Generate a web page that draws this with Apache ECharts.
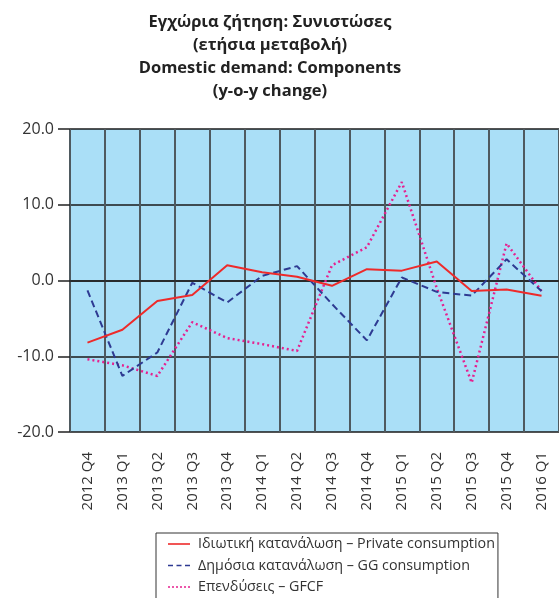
<!DOCTYPE html>
<html>
<head>
<meta charset="utf-8">
<script src="https://cdn.jsdelivr.net/npm/echarts@6/dist/echarts.min.js"></script>
<style>
  html, body { margin: 0; padding: 0; background: #fff; }
  #main { width: 559px; height: 598px; }
</style>
</head>
<body>
<div id="main"></div>
<script>
var quarters = ['2012 Q4', '2013 Q1', '2013 Q2', '2013 Q3', '2013 Q4', '2014 Q1', '2014 Q2',
  '2014 Q3', '2014 Q4', '2015 Q1', '2015 Q2', '2015 Q3', '2015 Q4', '2016 Q1'];
var privateCons = [-8.2, -6.5, -2.7, -1.9, 2.0, 1.1, 0.5, -0.7, 1.5, 1.3, 2.5, -1.4, -1.2, -2.0];
var ggCons = [-1.3, -12.6, -9.5, -0.3, -2.9, 0.6, 1.9, -3.1, -7.9, 0.4, -1.5, -2.0, 2.8, -1.4];
var gfcf = [-10.4, -11.2, -12.6, -5.5, -7.6, -8.4, -9.3, 2.0, 4.4, 13.0, -1.0, -13.5, 4.9, -1.4];

var seriesNames = [
  'Ιδιωτική κατανάλωση – Private consumption',
  'Δημόσια κατανάλωση – GG consumption',
  'Επενδύσεις – GFCF'
];

// legend icons: solid, dashed, dotted strokes
var iconSolid = 'path://M0,0H22V1.6H0Z';
var iconDashed = 'path://M0,0H5V1.6H0Z M8.5,0H13.5V1.6H8.5Z M17,0H22V1.6H17Z';
var iconDotted = 'path://M0,0H2V1.6H0Z M4,0H6V1.6H4Z M8,0H10V1.6H8Z M12,0H14V1.6H12Z M16,0H18V1.6H16Z M20,0H22V1.6H20Z';

var chart = echarts.init(document.getElementById('main'));
var font = '"Open Sans", sans-serif';

var option = {
  backgroundColor: '#fff',
  animation: false,
  title: {
    text: 'Εγχώρια ζήτηση: Συνιστώσες\n(ετήσια μεταβολή)\nDomestic demand: Components\n(y-o-y change)',
    left: 265,
    textAlign: 'center',
    top: 6,
    textStyle: {
      fontFamily: font,
      fontWeight: 'bold',
      fontSize: 16.5,
      lineHeight: 23,
      color: '#222'
    }
  },
  legend: {
    orient: 'vertical',
    left: 156,
    top: 533,
    height: 120,
    padding: [4, 3, 6, 12],
    itemGap: 7.5,
    itemWidth: 22,
    itemHeight: 14,
    borderColor: '#333',
    borderWidth: 1,
    borderRadius: 0,
    textStyle: { fontFamily: font, fontSize: 14.3, color: '#333', padding: [0, 0, 0, 3] },
    data: [
      { name: seriesNames[0], icon: iconSolid },
      { name: seriesNames[1], icon: iconDashed },
      { name: seriesNames[2], icon: iconDotted }
    ]
  },
  grid: {
    left: 70,
    top: 129,
    width: 490,
    height: 303,
    backgroundColor: '#aadff7',
    show: true,
    borderWidth: 0
  },
  xAxis: {
    type: 'category',
    data: quarters,
    boundaryGap: true,
    axisLine: { show: true, lineStyle: { color: '#222', width: 1.5 } },
    axisTick: { show: false },
    axisLabel: {
      rotate: 90,
      interval: 0,
      margin: 20,
      fontFamily: font,
      fontSize: 15,
      color: '#333'
    },
    splitLine: {
      show: true,
      interval: 0,
      lineStyle: { color: '#4f5a60', width: 2 }
    }
  },
  yAxis: {
    type: 'value',
    min: -20,
    max: 20,
    interval: 10,
    axisLine: { show: false },
    axisTick: { show: true, inside: false, length: 12, lineStyle: { color: '#222', width: 1.5 } },
    axisLabel: {
      margin: 16,
      fontFamily: font,
      fontSize: 16,
      color: '#333',
      formatter: function (v) { return v.toFixed(1); }
    },
    splitLine: { show: true, lineStyle: { color: '#1a1a1a', width: 1.5 } }
  },
  series: [{
    name: seriesNames[0],
    type: 'line',
    data: privateCons,
    symbol: 'none',
    lineStyle: { color: '#ee2a2a', width: 2 },
    itemStyle: { color: '#ee2a2a' },
    z: 3
  }, {
    name: seriesNames[1],
    type: 'line',
    data: ggCons,
    symbol: 'none',
    lineStyle: { color: '#2e3a92', width: 2, type: [7, 4] },
    itemStyle: { color: '#2e3a92' },
    z: 2
  }, {
    name: seriesNames[2],
    type: 'line',
    data: gfcf,
    symbol: 'none',
    lineStyle: { color: '#e6208f', width: 2.5, type: [2, 3] },
    itemStyle: { color: '#e6208f' },
    z: 1
  }]
};

chart.setOption(option);
</script>
</body>
</html>
